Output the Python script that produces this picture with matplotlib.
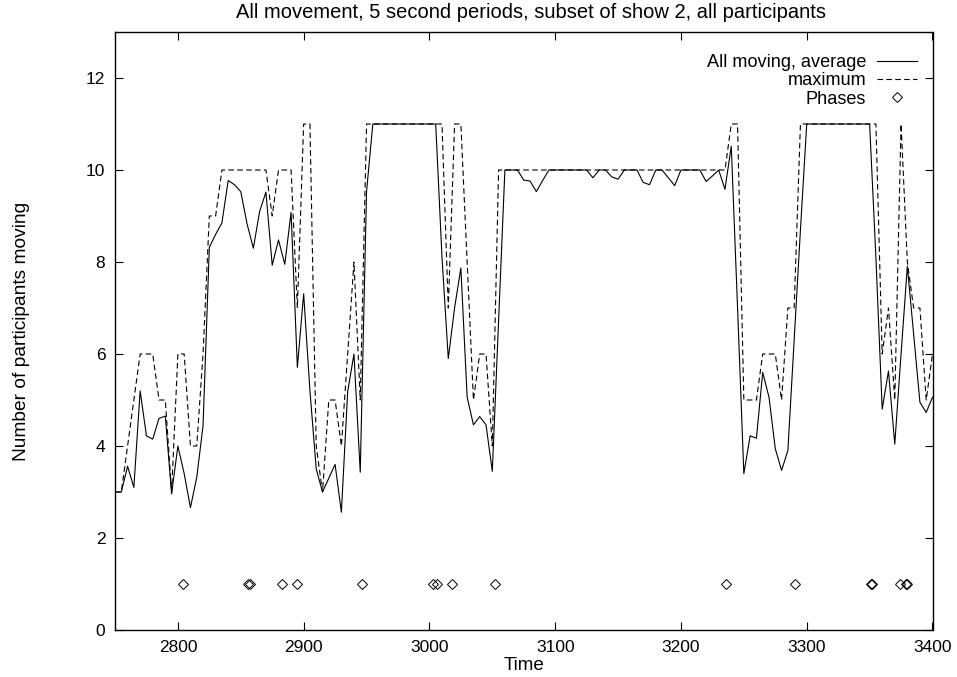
import numpy as np
import matplotlib
matplotlib.use("Agg")
import matplotlib.pyplot as plt

# 5-second periods starting at t = 2750
t_start = 2750
t_step = 5

# average number of participants moving in each period
avg_moving = [
    3.0, 3.0, 3.56, 3.1, 5.2, 4.22, 4.15, 4.6, 4.65, 2.96,
    4.0, 3.4, 2.66, 3.32, 4.44, 8.32, 8.6, 8.85, 9.77, 9.68,
    9.53, 8.83, 8.3, 9.1, 9.52, 7.93, 8.48, 7.95, 9.08, 5.71,
    7.31, 5.2, 3.5, 3.0, 3.3, 3.6, 2.56, 5.18, 6.0, 3.43,
    9.53, 11, 11, 11, 11, 11, 11, 11, 11, 11,
    11, 11, 8.1, 5.9, 7.0, 7.87, 5.06, 4.46, 4.64, 4.46,
    3.45, 6.7, 10, 10, 10, 9.78, 9.76, 9.53, 9.77, 10,
    10, 10, 10, 10, 10, 10, 9.83, 10, 10, 9.85,
    9.8, 10, 10, 10, 9.73, 9.68, 10, 10, 9.83, 9.66,
    10, 10, 10, 10, 9.75, 9.87, 10, 9.58, 10.52, 7.0,
    3.4, 4.22, 4.17, 5.6, 5.06, 3.94, 3.47, 3.9, 6.3, 8.7,
    11, 11, 11, 11, 11, 11, 11, 11, 11, 11,
    11, 8.1, 4.8, 5.63, 4.04, 6.0, 7.91, 6.43, 4.95, 4.73,
    5.06,
]

# maximum number of participants moving in each period
max_moving = [
    3, 3, 4, 5, 6, 6, 6, 5, 5, 3,
    6, 6, 4, 4, 6, 9, 9, 10, 10, 10,
    10, 10, 10, 10, 10, 9, 10, 10, 10, 7,
    11, 11, 4, 3, 5, 5, 4, 6, 8, 5,
    11, 11, 11, 11, 11, 11, 11, 11, 11, 11,
    11, 11, 11, 7, 11, 11, 8, 5, 6, 6,
    4, 10, 10, 10, 10, 10, 10, 10, 10, 10,
    10, 10, 10, 10, 10, 10, 10, 10, 10, 10,
    10, 10, 10, 10, 10, 10, 10, 10, 10, 10,
    10, 10, 10, 10, 10, 10, 10, 10, 11, 11,
    5, 5, 5, 6, 6, 6, 5, 7, 7, 11,
    11, 11, 11, 11, 11, 11, 11, 11, 11, 11,
    11, 11, 6, 7, 5, 11, 8, 7, 7, 5,
    6,
]

# phase boundaries
phase_times = [2804, 2856, 2857, 2883, 2895, 2946, 3003, 3006, 3018, 3052,
               3236, 3291, 3351, 3352, 3374, 3379, 3380]
phase_level = [1, 1, 1, 1, 1, 1, 1, 1, 1, 1, 1, 1, 1, 1, 1, 1, 1]

x_ticks = [2800, 2900, 3000, 3100, 3200, 3300, 3400]
y_ticks = [0, 2, 4, 6, 8, 10, 12]

time = t_start + t_step * np.arange(len(avg_moving))

plt.rcParams['font.family'] = ['Liberation Sans', 'DejaVu Sans']

W, H = 957, 677
fig = plt.figure(figsize=(W / 100, H / 100), dpi=100)
left, right, top, bottom = 115, 932.5, 32, 630
ax = fig.add_axes([left / W, 1 - bottom / H, (right - left) / W, (bottom - top) / H])

ax.plot(time, avg_moving, color='black', lw=0.8, label='All moving, average')
ax.plot(time, max_moving, color='black', lw=0.8, dashes=(5, 3), label='maximum')
ax.plot(phase_times, phase_level, ls='none', marker='D', ms=5, mfc='none',
        mec='black', mew=0.7, label='Phases')

ax.set_xlim(2750, 3400)
ax.set_ylim(0, 13)
ax.set_xticks(x_ticks)
ax.set_yticks(y_ticks)
ax.tick_params(direction='in', length=6, width=0.8, top=True, right=True,
               labelsize=12.5, pad=7)
for s in ax.spines.values():
    s.set_linewidth(1.0)

ax.set_xlabel('Time', fontsize=13.5, va='center')
ax.xaxis.set_label_coords(0.5, (bottom - 665) / (bottom - top))
ax.set_ylabel('Number of participants moving', fontsize=13.8, va='center')
ax.yaxis.set_label_coords((22 - left) / (right - left), 0.5)

fig.text(531.5 / W, 1 - 12 / H,
         'All movement, 5 second periods, subset of show 2, all participants',
         ha='center', va='center', fontsize=14.5)

leg = ax.legend(loc='upper right', markerfirst=False, frameon=False,
                bbox_to_anchor=((917 - left) / (right - left), (bottom - 54) / (bottom - top)),
                borderaxespad=0, borderpad=0, fontsize=13.1, handlelength=2.2,
                handletextpad=0.6, labelspacing=0.07)

fig.savefig('out.png', dpi=100)
